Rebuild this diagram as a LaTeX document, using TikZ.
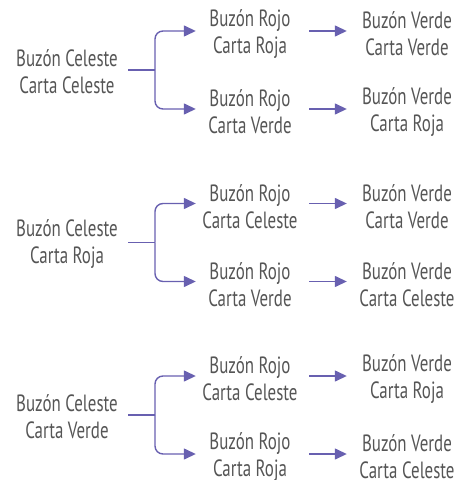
\documentclass[tikz,border=0pt]{standalone}
\usepackage{fontspec}
\setmainfont{PT Sans}[FakeStretch=0.72]
\usetikzlibrary{arrows.meta}
\definecolor{linkpurple}{RGB}{104, 96, 176}
\definecolor{textgray}{RGB}{85, 85, 85}

\begin{document}
\begin{tikzpicture}[
          x=1bp, y=-1bp,
          box/.style={text width=112bp, inner sep=0pt, align=center,
                      font=\fontsize{23.5bp}{27bp}\selectfont, text=textgray,
                      execute at begin node={\spaceskip=4.5bp\relax}},
          arr/.style={-{Triangle[length=12bp, width=11bp]}, line width=1.4bp, color=linkpurple},
          stem/.style={line width=1.4bp, color=linkpurple, shorten <=5bp},
          fork/.style={arr, rounded corners=8bp, shorten >=-2bp},
          pass/.style={arr, shorten <=3bp, shorten >=4bp},
        ]
        \useasboundingbox (0,0) rectangle (460,480);

        % Carta Celeste
        \node[box] (cel)   at (67,72)  {Buzón Celeste\\Carta Celeste};
        \node[box] (celA)  at (250,34) {Buzón Rojo\\Carta Roja};
        \node[box] (celB)  at (250,112) {Buzón Rojo\\Carta Verde};
        \node[box] (celA2) at (407,34) {Buzón Verde\\Carta Verde};
        \node[box] (celB2) at (407,112) {Buzón Verde\\Carta Roja};
        \coordinate (celS) at (155,70);

        % Carta Roja
        \node[box] (roj)   at (67,244.5)  {Buzón Celeste\\Carta Roja};
        \node[box] (rojA)  at (250,206.5) {Buzón Rojo\\Carta Celeste};
        \node[box] (rojB)  at (250,284.5) {Buzón Rojo\\Carta Verde};
        \node[box] (rojA2) at (407,206.5) {Buzón Verde\\Carta Verde};
        \node[box] (rojB2) at (407,284.5) {Buzón Verde\\Carta Celeste};
        \coordinate (rojS) at (155,242.5);

        % Carta Verde
        \node[box] (ver)   at (67,417)  {Buzón Celeste\\Carta Verde};
        \node[box] (verA)  at (250,379) {Buzón Rojo\\Carta Celeste};
        \node[box] (verB)  at (250,457) {Buzón Rojo\\Carta Roja};
        \node[box] (verA2) at (407,379) {Buzón Verde\\Carta Roja};
        \node[box] (verB2) at (407,457) {Buzón Verde\\Carta Celeste};
        \coordinate (verS) at (155,415);

        \draw[stem] (cel.east |- celS) -- (celS);
        \draw[fork] (celS) |- ([yshift=3bp]celA.west);
        \draw[fork] (celS) |- ([yshift=3bp]celB.west);
        \draw[pass] ([yshift=3bp]celA.east) -- ([yshift=3bp]celA2.west);
        \draw[pass] ([yshift=3bp]celB.east) -- ([yshift=3bp]celB2.west);

        \draw[stem] (roj.east |- rojS) -- (rojS);
        \draw[fork] (rojS) |- ([yshift=3bp]rojA.west);
        \draw[fork] (rojS) |- ([yshift=3bp]rojB.west);
        \draw[pass] ([yshift=3bp]rojA.east) -- ([yshift=3bp]rojA2.west);
        \draw[pass] ([yshift=3bp]rojB.east) -- ([yshift=3bp]rojB2.west);

        \draw[stem] (ver.east |- verS) -- (verS);
        \draw[fork] (verS) |- ([yshift=3bp]verA.west);
        \draw[fork] (verS) |- ([yshift=3bp]verB.west);
        \draw[pass] ([yshift=3bp]verA.east) -- ([yshift=3bp]verA2.west);
        \draw[pass] ([yshift=3bp]verB.east) -- ([yshift=3bp]verB2.west);
      \end{tikzpicture}
\end{document}
